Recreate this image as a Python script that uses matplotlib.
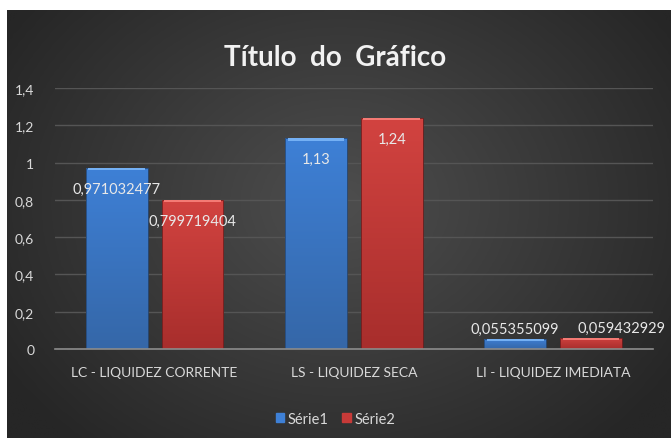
import numpy as np
import matplotlib
matplotlib.use("Agg")
import matplotlib.pyplot as plt
from matplotlib.colors import LinearSegmentedColormap

categories = ["LC - LIQUIDEZ CORRENTE", "LS - LIQUIDEZ SECA", "LI - LIQUIDEZ IMEDIATA"]
serie1 = [0.971032477, 1.13, 0.055355099]
serie2 = [0.799719404, 1.24, 0.059432929]
serie1_labels = ["0,971032477", "1,13", "0,055355099"]
serie2_labels = ["0,799719404", "1,24", "0,059432929"]
yticks = [0, 0.2, 0.4, 0.6, 0.8, 1.0, 1.2, 1.4]
ytick_labels = ["0", "0,2", "0,4", "0,6", "0,8", "1", "1,2", "1,4"]
series_names = ["Série1", "Série2"]

FONT = ["Lato", "DejaVu Sans"]
plt.rcParams["font.family"] = FONT

W, H = 671, 439
fig = plt.figure(figsize=(W / 100, H / 100), dpi=100, facecolor="white")

# background radial gradient panel
bg = fig.add_axes([7 / W, 0, 1 - 7 / W, (H - 11) / H])
bg.set_axis_off()
ny, nx = 200, 300
yy, xx = np.mgrid[0:ny, 0:nx]
cx, cy = nx * 0.5, ny * 0.45
r = np.sqrt(((xx - cx) / (nx * 0.6)) ** 2 + ((yy - cy) / (ny * 0.75)) ** 2)
r = np.clip(r, 0, 1)
cmap_bg = LinearSegmentedColormap.from_list("bg", ["#4e4e4e", "#3a3a3a", "#262626"])
bg.imshow(r, cmap=cmap_bg, aspect="auto", extent=[0, 1, 0, 1], interpolation="bilinear")

ax = fig.add_axes([55 / W, (H - 350) / H, (652.7 - 55) / W, 261 / H])
ax.patch.set_alpha(0)
x = np.arange(len(categories))
bw = 0.31
off = 0.19

blue_grad = LinearSegmentedColormap.from_list("b", ["#3567a8", "#3e80d6"])
red_grad = LinearSegmentedColormap.from_list("r", ["#a82e2c", "#d24340"])
blue_top = "#74b0f4"
red_top = "#f47a74"
bevel = 0.012
grad = np.linspace(0, 1, 64).reshape(-1, 1)

ax.set_ylim(0, 1.4)
ax.set_xlim(-0.5, 2.5)

for vals, cm, ct, o, ec in [(serie1, blue_grad, blue_top, -off, "#264a7a"),
                             (serie2, red_grad, red_top, off, "#6e1e1e")]:
    vals = np.array(vals)
    bars = ax.bar(x + o, vals, bw, color="none", edgecolor=ec, linewidth=0.6, zorder=3)
    for b in bars:
        bx, by = b.get_x(), b.get_y()
        bwid, bh = b.get_width(), b.get_height()
        im = ax.imshow(grad, cmap=cm, aspect="auto", origin="lower",
                       extent=[bx, bx + bwid, by, by + bh], zorder=2.5,
                       interpolation="bilinear")
        im.set_clip_path(b)
    ax.bar(x + o, np.minimum(vals, bevel), bw * 0.92, bottom=vals - np.minimum(vals, bevel),
           color=ct, linewidth=0, zorder=4)

ax.set_ylim(0, 1.4)
ax.set_xlim(-0.5, 2.5)

# data labels
for i in range(len(categories)):
    for vals, labs, o, k in [(serie1, serie1_labels, -off, 0), (serie2, serie2_labels, off, 1)]:
        v = vals[i]
        if v > 0.3:
            ax.annotate(labs[i], (x[i] + o, v), xytext=(0, -15), textcoords="offset points",
                        ha="center", va="center", color="#e8e8e8", fontsize=10.5, zorder=5)
        else:
            dx = 0 if k == 0 else 22
            ax.annotate(labs[i], (x[i] + o, v), xytext=(dx, 7), textcoords="offset points",
                        ha="center", va="center", color="#e8e8e8", fontsize=10.5, zorder=5)

ax.set_yticks(yticks)
ax.set_yticklabels(ytick_labels)
ax.set_xticks(x)
ax.set_xticklabels(categories)
ax.tick_params(axis="both", length=0, colors="#d9d9d9", labelsize=10)
ax.tick_params(axis="y", pad=15)
ax.tick_params(axis="x", pad=12)
ax.yaxis.grid(True, color="#555555", linewidth=1, zorder=0)
ax.set_axisbelow(True)
for s in ["top", "right", "left"]:
    ax.spines[s].set_visible(False)
ax.spines["bottom"].set_color("#8c8c8c")
ax.spines["bottom"].set_linewidth(1.2)
ax.spines["bottom"].set_zorder(6)

fig.text(0.5, (H - 58) / H, "Título  do  Gráfico", ha="center", va="center",
         fontsize=20, fontweight="bold", color="#f2f2f2")

handles = [plt.Rectangle((0, 0), 1, 1, color="#3e80d6"), plt.Rectangle((0, 0), 1, 1, color="#c73a38")]
leg = fig.legend(handles, series_names, loc="center", bbox_to_anchor=(0.5, (H - 420) / H),
                 ncol=2, frameon=False, fontsize=10.5, handlelength=0.6, handleheight=0.6,
                 handletextpad=0.25, columnspacing=0.9)
for t in leg.get_texts():
    t.set_color("#d9d9d9")

fig.savefig("out.png", dpi=100, facecolor="white")
